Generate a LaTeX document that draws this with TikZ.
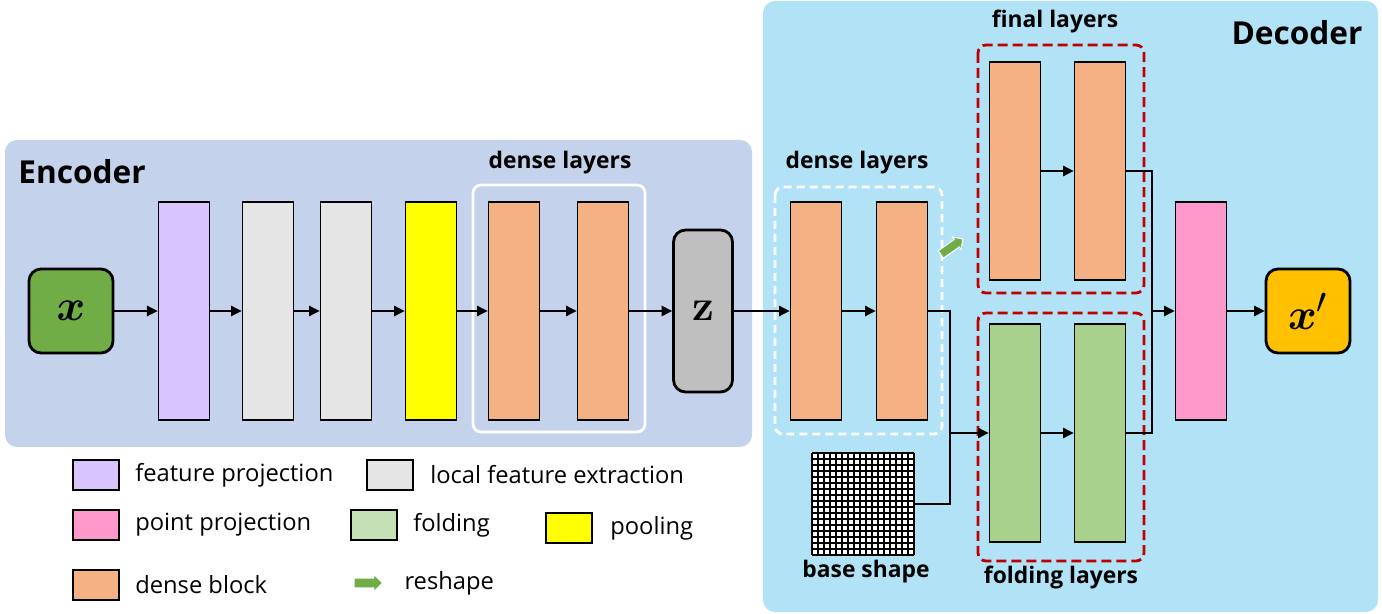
\documentclass[tikz,border=0pt]{standalone}
\usepackage{amsmath}
\usepackage{bm}
\usepackage[no-math]{fontspec}
\setmainfont{Open Sans}
\usetikzlibrary{arrows.meta,shapes.arrows,positioning}

\definecolor{encbg}{RGB}{196,210,236}
\definecolor{decbg}{RGB}{178,226,246}
\definecolor{projcol}{RGB}{216,196,255}
\definecolor{localcol}{RGB}{229,229,229}
\definecolor{poolcol}{RGB}{255,255,0}
\definecolor{densecol}{RGB}{244,177,131}
\definecolor{foldcol}{RGB}{169,209,142}
\definecolor{foldlegcol}{RGB}{197,224,180}
\definecolor{pointcol}{RGB}{255,153,204}
\definecolor{incol}{RGB}{112,173,71}
\definecolor{outcol}{RGB}{255,192,0}
\definecolor{latcol}{RGB}{191,191,191}
\definecolor{framered}{RGB}{192,0,0}

\begin{document}
\begin{tikzpicture}[x=0.02cm,y=-0.02cm,
	layer/.style={draw,line width=1.1pt,minimum width=1.02cm,minimum height=4.37cm,inner sep=0pt},
	term/.style={draw,line width=1.6pt,rounded corners=0.24cm,inner sep=0pt,font=\fontsize{28}{30}\selectfont},
	conn/.style={-{Triangle[length=6pt,width=6pt]},line width=0.6pt},
	wire/.style={line width=0.6pt},
	legbox/.style={draw,line width=1.1pt,minimum width=0.92cm,minimum height=0.6cm,inner sep=0pt},
	legtext/.style={inner sep=0pt,font=\fontsize{13.5}{15}\selectfont},
	grouptitle/.style={font=\fontsize{13}{15}\selectfont\bfseries},
	parttitle/.style={font=\fontsize{18}{20}\selectfont\bfseries},
	reshapearrow/.style={single arrow,fill=incol,inner xsep=0pt,inner ysep=0.08cm,minimum height=0.54cm,single arrow head extend=0.06cm}]
	\useasboundingbox (0,0) rectangle (1382,614);
	\fill[encbg,rounded corners=0.24cm] (5,140) rectangle (752,447); % encoder background
	\fill[decbg,rounded corners=0.24cm] (763,1) rectangle (1378,612); % decoder background
	\node[parttitle] (enctitle) at (82,172) {Encoder};
	\node[parttitle] (dectitle) at (1297,33) {Decoder};
	% group frames
	\draw[white,line width=1.6pt,rounded corners=0.16cm] (473,185) rectangle (645,432);
	\draw[white,line width=1.6pt,dash pattern=on 0.16cm off 0.1cm,rounded corners=0.16cm] (775,187) rectangle (942,434);
	\draw[framered,line width=1.6pt,dash pattern=on 0.2cm off 0.1cm,rounded corners=0.16cm] (978,45) rectangle (1144,293);
	\draw[framered,line width=1.6pt,dash pattern=on 0.2cm off 0.1cm,rounded corners=0.16cm] (978,313) rectangle (1144,561);
	\node[grouptitle] (encdense) at (560,163) {dense layers};
	\node[grouptitle] (decdense) at (857,163) {dense layers};
	\node[grouptitle] (finaltitle) at (1055,22) {final layers};
	\node[grouptitle] (foldtitle) at (1061,578) {folding layers};
	% encoder
	\node[term,fill=incol,minimum size=1.68cm] (in) at (71,311) {$\bm{x}$};
	\node[layer,fill=projcol] (proj) at (184,311) {};
	\node[layer,fill=localcol] (loc1) at (268,311) {};
	\node[layer,fill=localcol] (loc2) at (346,311) {};
	\node[layer,fill=poolcol] (pool) at (431,311) {};
	\node[layer,fill=densecol] (enc1) at (514,311) {};
	\node[layer,fill=densecol] (enc2) at (603,311) {};
	\node[term,fill=latcol,minimum width=1.18cm,minimum height=3.24cm] (lat) at (703,311) {$\mathbf{z}$};
	% decoder
	\node[layer,fill=densecol] (dec1) at (816,311) {};
	\node[layer,fill=densecol] (dec2) at (902,311) {};
	\node[layer,fill=densecol] (fin1) at (1015,171) {};
	\node[layer,fill=densecol] (fin2) at (1100,171) {};
	\node[layer,fill=foldcol] (fold1) at (1015,433) {};
	\node[layer,fill=foldcol] (fold2) at (1100,433) {};
	\node[layer,fill=pointcol] (point) at (1201,311) {};
	\node[term,fill=outcol,minimum size=1.68cm] (out) at (1308,311) {$\bm{x}'$};
	\node[reshapearrow,rotate=35,draw=white,line width=0.6pt] (reshape) at (950,248) {};
	% base shape grid
	\node[fill=white,minimum size=2.04cm,inner sep=0pt] (base) at (863,504) {};
	\foreach \i in {0,...,17} {
		\draw[line width=1.1pt] (812+6*\i,453) -- (812+6*\i,555);
		\draw[line width=1.1pt] (812,453+6*\i) -- (914,453+6*\i);
	}
	\node[grouptitle] (basetitle) at (866,572) {base shape};
	% connectors
	\draw[conn] (in) -- (proj);
	\draw[conn] (proj) -- (loc1);
	\draw[conn] (loc1) -- (loc2);
	\draw[conn] (loc2) -- (pool);
	\draw[conn] (pool) -- (enc1);
	\draw[conn] (enc1) -- (enc2);
	\draw[conn] (enc2) -- (lat);
	\draw[conn] (lat) -- (dec1);
	\draw[conn] (dec1) -- (dec2);
	\draw[conn] (fin1) -- (fin2);
	\draw[conn] (fold1) -- (fold2);
	\coordinate (j1) at (950,433);
	\coordinate (j2) at (1152,311);
	\draw[wire] (dec2.east) -| (j1);
	\draw[wire] (base.east) -| (j1);
	\draw[conn] (j1) -- (fold1.west);
	\draw[wire] (fin2.east) -| (j2);
	\draw[wire] (fold2.east) -| (j2);
	\draw[conn] (j2) -- (point.west);
	\draw[conn] (point) -- (out);
	% legend
	\node[legbox,fill=projcol] (lgproj) at (96,475) {};
	\node[legtext,right=0.3cm of lgproj] (lgprojtxt) {feature projection};
	\node[legbox,fill=localcol] (lgloc) at (390,475) {};
	\node[legtext,right=0.32cm of lgloc] (lgloctxt) {local feature extraction};
	\node[legbox,fill=pointcol] (lgpoint) at (96,525) {};
	\node[legtext,right=0.3cm of lgpoint] (lgpointtxt) {point projection};
	\node[legbox,fill=foldlegcol] (lgfold) at (374,525) {};
	\node[legtext,right=0.3cm of lgfold] (lgfoldtxt) {folding};
	\node[legbox,fill=poolcol] (lgpool) at (569,528) {};
	\node[legtext,right=0.34cm of lgpool] (lgpooltxt) {pooling};
	\node[legbox,fill=densecol] (lgdense) at (96,585) {};
	\node[legtext,right=0.3cm of lgdense] (lgdensetxt) {dense block};
	\node[reshapearrow] (lgshape) at (366,583) {};
	\node[legtext,right=0.44cm of lgshape] (lgshapetxt) {reshape};
\end{tikzpicture}
\end{document}
